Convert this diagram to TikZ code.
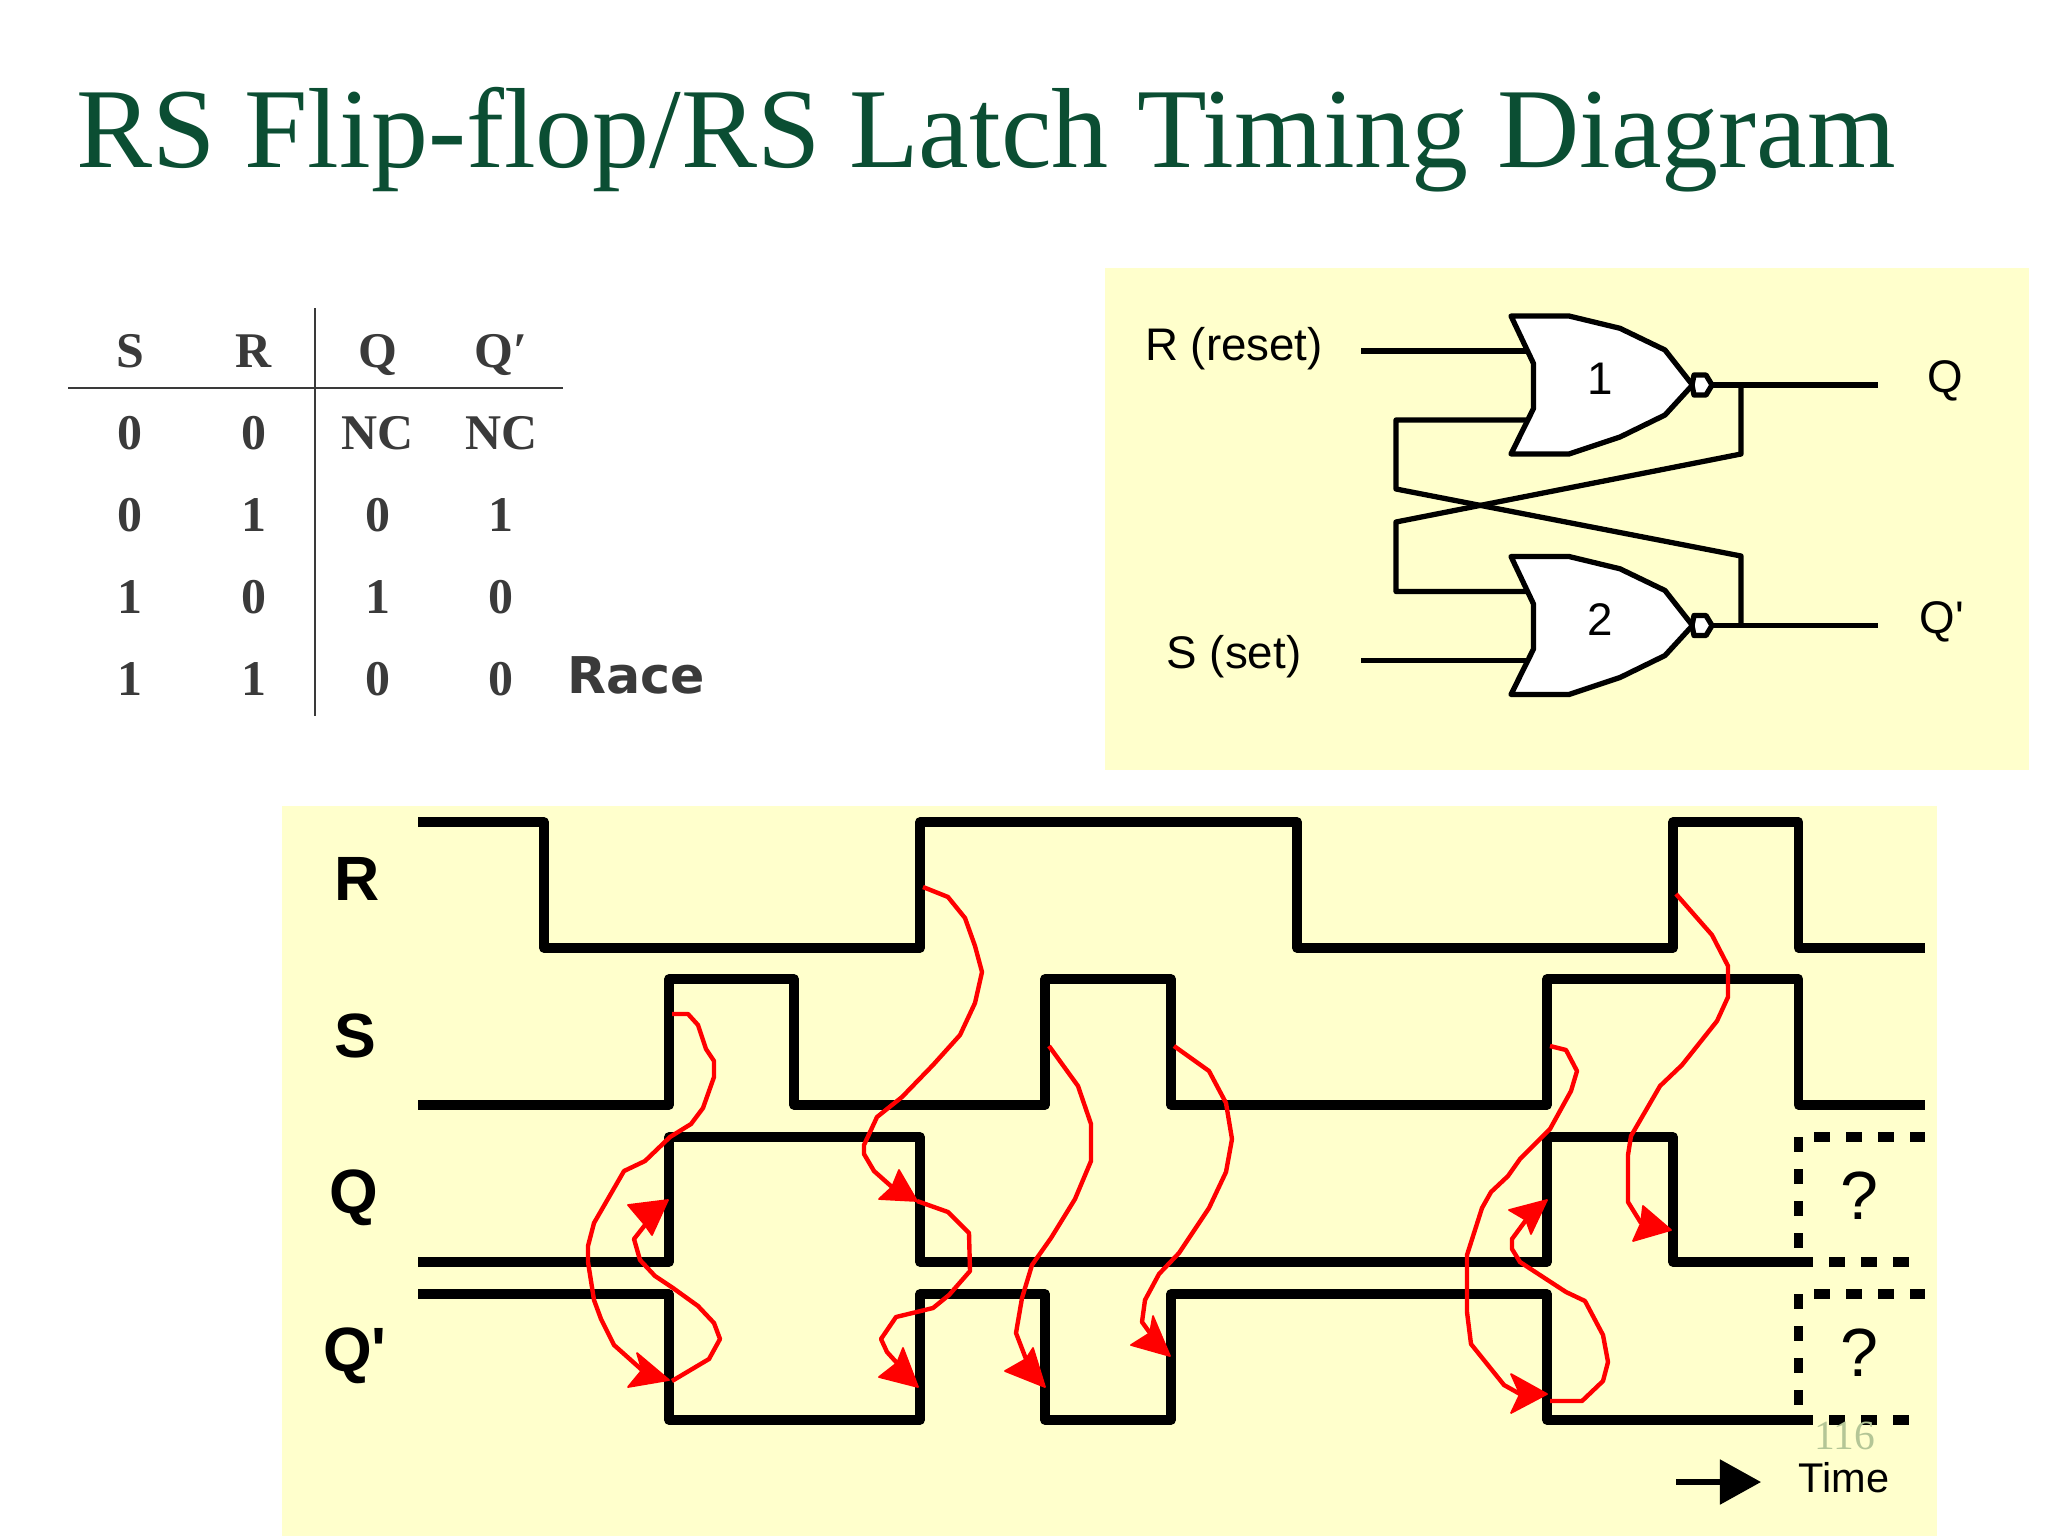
\documentclass[tikz,border=0pt]{standalone}
\usepackage{fontspec}
\setmainfont{Liberation Sans}
\newfontfamily\cellfont{Liberation Serif}
\newfontfamily\racefont{DejaVu Sans}
\definecolor{SlideGreen}{HTML}{0B4E33}
\definecolor{SlideYellow}{HTML}{FFFFCC}
\definecolor{TableGrey}{HTML}{3A3A3A}
\definecolor{PageGreen}{HTML}{B4C696}
\usetikzlibrary{arrows.meta, positioning}
\tikzset{
  panel/.style={fill=SlideYellow, draw=none},
  wire/.style={line width=1.5pt, line join=round},
  wave/.style={line width=2.7pt, line join=round},
  unknownh/.style={line width=2.7pt, dash pattern=on 4.55pt off 4.55pt},
  unknownv/.style={line width=2.7pt, dash pattern=on 4.3pt off 4.8pt},
  ripple/.style={red, line width=1.25pt, line join=round},
  rippletip/.style={fill=red, draw=red, line width=0.5pt, line join=round},
  tablecell/.style={font=\cellfont\bfseries\fontsize{14.2}{16}\selectfont, text=TableGrey,
    minimum width=1.237cm, minimum height=0.82cm, inner sep=0pt, outer sep=0pt,
    text height=0.35cm, text depth=0cm, align=center},
  siglabel/.style={font=\bfseries\fontsize{17.8}{20}\selectfont, inner sep=0pt},
  gatelabel/.style={font=\fontsize{13}{15}\selectfont, inner sep=0pt},
  norgate/.pic={
    \draw[wire, fill=white] (0,0) -- (58,0) -- (109,12.3) -- (154,34) -- (181.5,69)
      -- (154,99) -- (109,121) -- (58,138) -- (0,138) -- (22.5,92.5) -- (22.5,47.5) -- cycle;
    \draw[wire, fill=white] (183,59) -- (195,59) -- (201,69) -- (195,79) -- (183,79)
      -- (181,69) -- cycle;
    \coordinate (-a) at (16,35);
    \coordinate (-b) at (16,104);
    \coordinate (-o) at (201,69);
  }
}
\begin{document}
\begin{tikzpicture}[x=0.01cm, y=-0.01cm]
  \useasboundingbox (0,0) rectangle (2048,1536);
  \fill[white] (0,0) rectangle (2048,1536);

  \node[anchor=base west, inner sep=0pt, text=SlideGreen, font=\cellfont\fontsize{32.4}{36}\selectfont]
    (title) at (76,167) {RS Flip-flop/RS Latch Timing Diagram};

  \node[tablecell] (hs) at (130,350) {S};
  \node[tablecell, right=0cm of hs] (hr) {R};
  \node[tablecell, right=0cm of hr] (hq) {Q};
  \node[tablecell, right=0cm of hq] (hqb) {Q′};
  \node[tablecell, below=0cm of hs] (aa) {0};
  \node[tablecell, right=0cm of aa] (ab) {0};
  \node[tablecell, right=0cm of ab] (ac) {NC};
  \node[tablecell, right=0cm of ac] (ad) {NC};
  \node[tablecell, below=0cm of aa] (ba) {0};
  \node[tablecell, right=0cm of ba] (bb) {1};
  \node[tablecell, right=0cm of bb] (bc) {0};
  \node[tablecell, right=0cm of bc] (bd) {1};
  \node[tablecell, below=0cm of ba] (ca) {1};
  \node[tablecell, right=0cm of ca] (cb) {0};
  \node[tablecell, right=0cm of cb] (cc) {1};
  \node[tablecell, right=0cm of cc] (cd) {0};
  \node[tablecell, below=0cm of ca] (da) {1};
  \node[tablecell, right=0cm of da] (db) {1};
  \node[tablecell, right=0cm of db] (dc) {0};
  \node[tablecell, right=0cm of dc] (dd) {0};
  \node[inner sep=0pt, text=TableGrey, font=\racefont\bfseries\fontsize{14.4}{16}\selectfont]
    (race) at (636,675) {Race};
  \coordinate (hruleleft) at (68,388);
  \coordinate (hruleright) at (563,388);
  \coordinate (vruletop) at (315,308);
  \coordinate (vrulebottom) at (315,716);
  \draw[TableGrey, line width=0.75pt] (hruleleft) -- (hruleright);
  \draw[TableGrey, line width=0.75pt] (vruletop) -- (vrulebottom);

  \fill[panel] (1105,268) rectangle (2029,770);
  \pic (gone) at (1511,316) {norgate};
  \pic (gtwo) at (1511,556.5) {norgate};
  \node[gatelabel] (numone) at (1600,379) {1};
  \node[gatelabel] (numtwo) at (1600,620) {2};
  \node[gatelabel] (rlabel) at (1234,349) {R (reset)};
  \node[gatelabel] (slabel) at (1234,657) {S (set)};
  \node[gatelabel] (qlabel) at (1945,381) {Q};
  \node[gatelabel] (qblabel) at (1942,622) {Q\textquotesingle};
  \coordinate (rstart) at (1361,351);
  \coordinate (sstart) at (1361,660.5);
  \coordinate (qend) at (1878,385);
  \coordinate (qbend) at (1878,625.5);
  \coordinate (qtap) at (1741,385);
  \coordinate (qbtap) at (1741,625.5);
  \draw[wire] (rstart) -- (gone-a);
  \draw[wire] (sstart) -- (gtwo-b);
  \draw[wire] (gone-o) -- (qend);
  \draw[wire] (gtwo-o) -- (qbend);
  \draw[wire] (qtap) -- (1741,454) -- (1396,522) -- (1396,591.5) -- (gtwo-a);
  \draw[wire] (gone-b) -- (1396,420) -- (1396,489) -- (1741,556) -- (qbtap);

  \fill[panel] (281.5,806) rectangle (1937,1536);
  \node[siglabel] (rsig) at (357.5,879) {R};
  \node[siglabel] (ssig) at (355,1036) {S};
  \node[siglabel] (qsig) at (354,1198) {Q};
  \node[siglabel] (qbsig) at (355,1356) {Q\textquotesingle};

  \draw[wave] (418,822) -| (544,948) -| (920,822) -| (1297,948) -| (1673,822) -| (1798.5,948) -- (1925,948);
  \draw[wave] (418,1105) -| (669,979) -| (794,1105) -| (1045,979) -| (1171,1105) -| (1547,979) -| (1798.5,1105) -- (1925,1105);
  \draw[wave] (418,1262) -| (669,1137) -| (920,1262) -| (1547,1137) -| (1673,1262) -- (1813,1262);
  \draw[wave] (418,1294) -| (669,1420) -| (920,1294) -| (1045,1420) -| (1171,1294) -| (1547,1420) -- (1813,1420);

  \draw[unknownh] (1814,1137) -- (1925,1137);
  \draw[unknownh] (1814,1294) -- (1925,1294);
  \draw[unknownh] (1829,1262) -- (1912,1262);
  \draw[unknownh] (1829,1420) -- (1912,1420);
  \draw[unknownv] (1798.5,1137) -- (1798.5,1250);
  \draw[unknownv] (1798.5,1294) -- (1798.5,1407);
  \node[inner sep=0pt, font=\fontsize{19.4}{22}\selectfont] (qq) at (1859,1196) {?};
  \node[inner sep=0pt, font=\fontsize{19.4}{22}\selectfont] (qbq) at (1859,1353) {?};

  \draw[ripple] (672,1014) -- (688,1014) -- (698,1025) -- (706,1049) -- (714,1061) -- (714,1077) -- (703,1108)
    -- (691,1124) -- (670,1137) -- (645,1161) -- (624,1171) -- (594,1223) -- (588,1246) -- (588,1262)
    -- (594,1300) -- (601,1319) -- (614,1345) -- (642,1370);
  \filldraw[rippletip] (637,1353) -- (669,1380) -- (628,1387) -- (642,1370) -- cycle;
  \draw[ripple] (672,1381) -- (709,1359) -- (720,1339) -- (714,1323) -- (698,1306) -- (673,1288)
    -- (655,1276) -- (640,1260) -- (634,1239) -- (645,1225);
  \filldraw[rippletip] (628,1205) -- (668,1200) -- (652,1235) -- (645,1225) -- cycle;

  \draw[ripple] (923,887) -- (948,897) -- (965,918) -- (975,946) -- (982,972) -- (975,1003) -- (960,1035)
    -- (933,1065) -- (902,1097) -- (877,1117) -- (864,1145) -- (864,1154) -- (874,1171) -- (892,1187);
  \filldraw[rippletip] (899,1170) -- (917,1201) -- (879,1199) -- (892,1187) -- cycle;
  \draw[ripple] (917,1201) -- (948,1212) -- (969,1233) -- (970,1271) -- (949,1295) -- (933,1308)
    -- (896,1317) -- (881,1339) -- (887,1352) -- (897,1363);
  \filldraw[rippletip] (903,1348) -- (918,1387) -- (879,1377) -- (897,1363) -- cycle;

  \draw[ripple] (1049,1046) -- (1078,1086) -- (1091,1124) -- (1091,1161) -- (1075,1199) -- (1051,1238)
    -- (1032,1265) -- (1022,1298) -- (1016,1333) -- (1026,1359);
  \filldraw[rippletip] (1033,1348) -- (1045,1387) -- (1005,1371) -- (1026,1359) -- cycle;
  \draw[ripple] (1174,1046) -- (1209,1071) -- (1226,1103) -- (1232,1139) -- (1226,1172) -- (1209,1208)
    -- (1179,1253) -- (1159,1274) -- (1145,1300) -- (1142,1322) -- (1150,1333);
  \filldraw[rippletip] (1153,1316) -- (1170,1356) -- (1131,1345) -- (1150,1333) -- cycle;

  \draw[ripple] (1550,1046) -- (1566,1050) -- (1577,1071) -- (1571,1091) -- (1550,1129) -- (1520,1159)
    -- (1508,1176) -- (1491,1192) -- (1482,1208) -- (1467,1255) -- (1467,1312) -- (1471,1344)
    -- (1504,1385) -- (1520,1394);
  \filldraw[rippletip] (1511,1374) -- (1547,1394) -- (1511,1413) -- (1520,1394) -- cycle;
  \draw[ripple] (1550,1401) -- (1582,1401) -- (1603,1381) -- (1608,1362) -- (1603,1335) -- (1585,1301)
    -- (1566,1292) -- (1520,1262) -- (1512,1249) -- (1512,1239) -- (1526,1220);
  \filldraw[rippletip] (1509,1210) -- (1547,1200) -- (1531,1234) -- (1526,1220) -- cycle;

  \draw[ripple] (1676,894) -- (1712,935) -- (1728,966) -- (1728,997) -- (1717,1021) -- (1682,1065)
    -- (1660,1086) -- (1631,1136) -- (1628,1155) -- (1628,1202) -- (1641,1223);
  \filldraw[rippletip] (1643,1206) -- (1671,1230) -- (1633,1241) -- (1641,1223) -- cycle;

  \node[inner sep=0pt, text=PageGreen, font=\cellfont\fontsize{11.8}{14}\selectfont] (pagenum) at (1845,1436) {116};
  \node[inner sep=0pt, font=\fontsize{11.8}{14}\selectfont] (timelabel) at (1844,1478) {Time};
  \coordinate (timestart) at (1676,1482);
  \coordinate (timetip) at (1761,1482);
  \draw[-{Triangle[length=0.41cm, width=0.44cm]}, wire] (timestart) -- (timetip);
\end{tikzpicture}
\end{document}
